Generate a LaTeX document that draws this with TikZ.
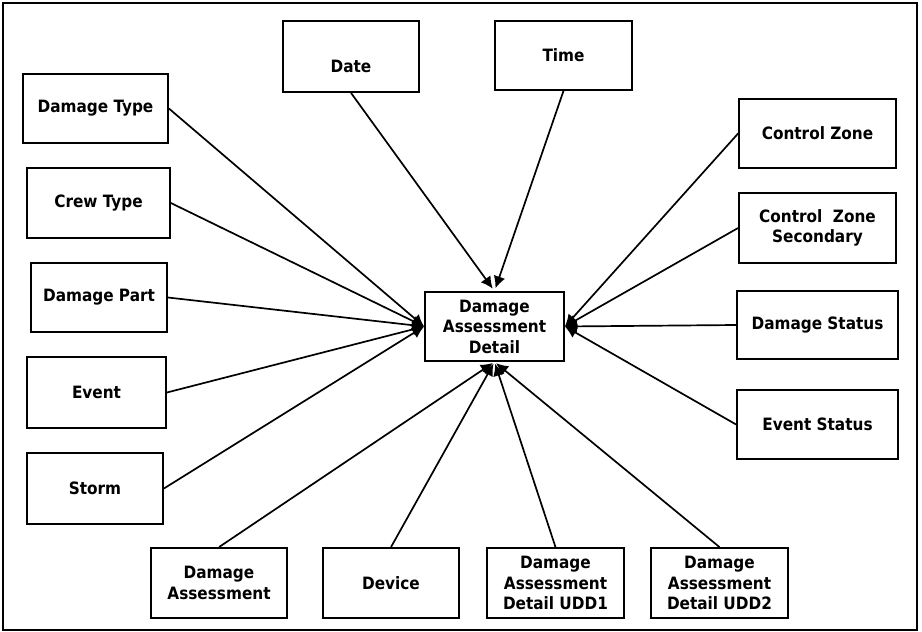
\documentclass[tikz,border=0pt]{standalone}
\usepackage{fontspec}
\setmainfont{DejaVu Sans Condensed}
\usetikzlibrary{arrows.meta}
\begin{document}
\begin{tikzpicture}[x=1pt,y=-1pt,
  ent/.style={draw,line width=1.8pt,fill=white,inner sep=0pt,align=center,
    font=\fontsize{17}{20.5}\selectfont\bfseries},
  rel/.style={line width=1.7pt,-{Latex[length=12pt,width=12pt]}}]
\useasboundingbox (0,0) rectangle (922,632);
\draw[line width=2.4pt] (3,3) rectangle (917,630);
% centre
\node[ent,minimum width=139pt,minimum height=69pt] (c) at (494.5,326.5) {Damage\\Assessment\\Detail};
% top
\node[ent,minimum width=136pt,minimum height=71pt,text height=31pt,text depth=0pt] (date) at (351,56.5) {Date};
\node[ent,minimum width=137pt,minimum height=69pt] (time) at (563.5,55.5) {Time};
% left
\node[ent,minimum width=145pt,minimum height=69pt] (dtype) at (95.5,108.5) {Damage Type};
\node[ent,minimum width=143pt,minimum height=70pt] (crew) at (98.5,203) {Crew Type};
\node[ent,minimum width=136pt,minimum height=69pt] (dpart) at (99,297.5) {Damage Part};
\node[ent,minimum width=139pt,minimum height=71pt] (event) at (96.5,392.5) {Event};
\node[ent,minimum width=136pt,minimum height=71pt] (storm) at (95,488.5) {Storm};
% bottom
\node[ent,minimum width=136pt,minimum height=70pt] (da) at (219,583) {Damage\\Assessment};
\node[ent,minimum width=136pt,minimum height=70pt] (device) at (391,583) {Device};
\node[ent,minimum width=137pt,minimum height=70pt] (udd1) at (555.5,583) {Damage\\Assessment\\Detail UDD1};
\node[ent,minimum width=137pt,minimum height=70pt] (udd2) at (719.5,583) {Damage\\Assessment\\Detail UDD2};
% right
\node[ent,minimum width=157pt,minimum height=69pt] (cz) at (817.5,133.5) {Control Zone};
\node[ent,minimum width=157pt,minimum height=70pt] (czs) at (817.5,228) {Control\ \ Zone\\Secondary};
\node[ent,minimum width=161pt,minimum height=68pt] (dstat) at (817.5,325) {Damage Status};
\node[ent,minimum width=161pt,minimum height=69pt] (estat) at (817.5,424.5) {Event Status};
% connectors
\foreach \s in {dtype,crew,dpart,event,storm} \draw[rel] (\s.east) -- (c.west);
\foreach \s in {date,time} \draw[rel,shorten >=3pt] (\s.south) -- (c.north);
\foreach \s in {cz,czs,dstat,estat} \draw[rel] (\s.west) -- (c.east);
\foreach \s in {da,device,udd1,udd2} \draw[rel,shorten >=2pt] (\s.north) -- (c.south);
\end{tikzpicture}
\end{document}
